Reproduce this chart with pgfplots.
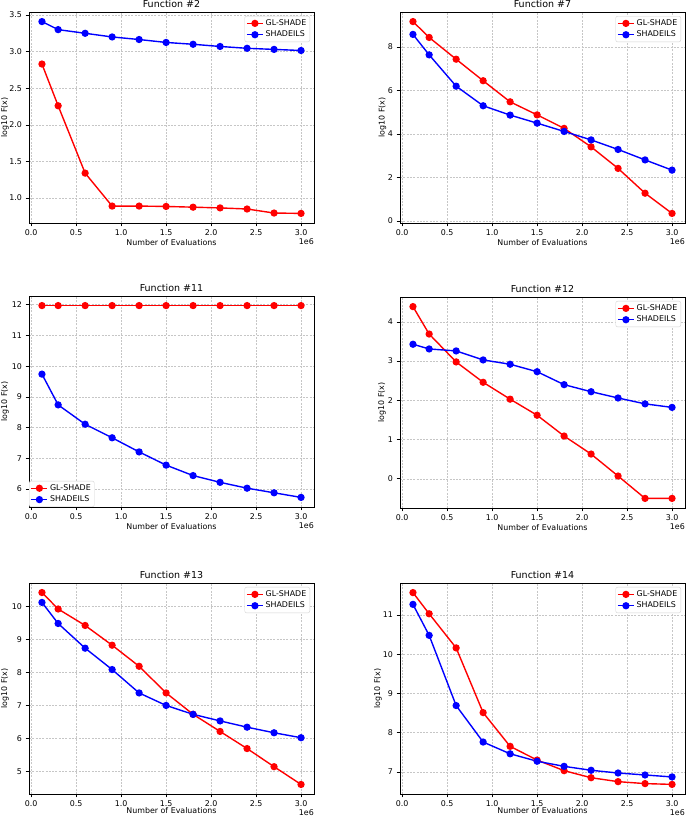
\documentclass[border=0pt]{standalone}
\usepackage{fontspec}
\setmainfont{DejaVu Sans}
\usepackage{pgfplots}
\usepackage{pgfplotstable}
\pgfplotsset{compat=1.18}
\newcommand{\tk}{\fontsize{7.9}{9}\selectfont}
\newcommand{\ttl}{\fontsize{9.5}{11}\selectfont}

\pgfplotstableread{
x    gl     sh
0.12 2.83   3.41
0.3  2.26   3.30
0.6  1.34   3.25
0.9  0.89   3.20
1.2  0.89   3.165
1.5  0.885  3.125
1.8  0.875  3.10
2.1  0.865  3.07
2.4  0.85   3.045
2.7  0.795  3.03
3.0  0.79   3.015
}\fA
\pgfplotstableread{
x    gl     sh
0.12 9.16   8.57
0.3  8.43   7.63
0.6  7.43   6.19
0.9  6.44   5.29
1.2  5.47   4.86
1.5  4.87   4.49
1.8  4.25   4.11
2.1  3.40   3.72
2.4  2.41   3.28
2.7  1.27   2.80
3.0  0.34   2.33
}\fB
\pgfplotstableread{
x    gl     sh
0.12 11.97  9.74
0.3  11.97  8.74
0.6  11.97  8.11
0.9  11.97  7.67
1.2  11.97  7.21
1.5  11.97  6.78
1.8  11.97  6.44
2.1  11.97  6.22
2.4  11.97  6.03
2.7  11.97  5.88
3.0  11.97  5.73
}\fC
\pgfplotstableread{
x    gl     sh
0.12 4.39   3.43
0.3  3.69   3.31
0.6  2.98   3.26
0.9  2.46   3.03
1.2  2.03   2.92
1.5  1.62   2.73
1.8  1.09   2.40
2.1  0.63   2.22
2.4  0.07   2.06
2.7  -0.50  1.91
3.0  -0.50  1.82
}\fD
\pgfplotstableread{
x    gl     sh
0.12 10.43  10.13
0.3  9.93   9.49
0.6  9.43   8.74
0.9  8.83   8.09
1.2  8.19   7.38
1.5  7.38   7.00
1.8  6.73   6.73
2.1  6.21   6.53
2.4  5.69   6.34
2.7  5.14   6.17
3.0  4.60   6.02
}\fE
\pgfplotstableread{
x    gl     sh
0.12 11.57  11.27
0.3  11.03  10.48
0.6  10.16  8.69
0.9  8.51   7.76
1.2  7.65   7.46
1.5  7.30   7.27
1.8  7.03   7.14
2.1  6.85   7.04
2.4  6.75   6.97
2.7  6.70   6.92
3.0  6.68   6.87
}\fF

\pgfplotsset{
  every axis title/.style={at={(0.5,1)}, anchor=base, yshift=4.5pt, font=\ttl},
  scale only axis, width=285pt, height=211pt,
  xmin=-0.024, xmax=3.144,
  xtick={0,0.5,1,1.5,2,2.5,3},
  xticklabel style={/pgf/number format/.cd, fixed, fixed zerofill, precision=1},
  /pgf/number format/assume math mode=true,
  tick label style={font=\tk},
  label style={font=\tk},
  tick align=outside, tick pos=left, major tick length=3.5pt,
  tick style={black, line width=0.6pt},
  axis line style={black, line width=0.8pt},
  grid=major,
  major grid style={gray!45, dash pattern=on 2pt off 1.3pt, line width=0.5pt},
  xlabel={Number of Evaluations}, ylabel={log10 F(x)},
  xlabel style={at={(axis description cs:0.5,0)}, anchor=north, inner sep=0pt, yshift=-16pt},
  legend cell align=left,
  legend style={font=\tk, draw=gray!35, rounded corners=2pt, fill=white,
    at={(1,1)}, anchor=north east, xshift=-4pt, yshift=-4pt,
    inner sep=1.5pt, row sep=0pt},
  legend image code/.code={
    \draw[mark repeat=2, mark phase=2, #1, dash pattern=on 5pt off 6pt, mark options={solid}]
      plot coordinates {(0pt,0pt) (8pt,0pt) (16pt,0pt)};
  },
  every axis plot/.append style={line width=1.4pt, mark=*, mark size=2.9pt},
  extra description/.code={
    \node[anchor=north east, inner sep=0pt, font=\tk] at (1,0) [yshift=-15pt] {1e6};
  },
}

\begin{document}
\begin{tikzpicture}
\path[use as bounding box] (0,0) rectangle (685pt,816pt);

\begin{axis}[at={(29pt,593pt)}, anchor=south west, title={Function \#2},
  ymin=0.659, ymax=3.541, ytick={1,1.5,2,2.5,3,3.5},
  yticklabel style={/pgf/number format/.cd, fixed, fixed zerofill, precision=1},
  ylabel style={at={([xshift=-24pt]axis description cs:0,0.5)}, anchor=center, inner sep=0pt}]
\addplot[red] table[x=x, y=gl] {\fA};
\addplot[blue] table[x=x, y=sh] {\fA};
\legend{GL-SHADE, SHADEILS}
\end{axis}

\begin{axis}[at={(400pt,593pt)}, anchor=south west, title={Function \#7},
  ymin=-0.10, ymax=9.60, ytick={0,2,4,6,8},
  ylabel style={at={([xshift=-17.5pt]axis description cs:0,0.5)}, anchor=center, inner sep=0pt}]
\addplot[red] table[x=x, y=gl] {\fB};
\addplot[blue] table[x=x, y=sh] {\fB};
\legend{GL-SHADE, SHADEILS}
\end{axis}

\begin{axis}[at={(29pt,309pt)}, anchor=south west, title={Function \#11},
  ymin=5.418, ymax=12.282, ytick={6,7,8,9,10,11,12},
  ylabel style={at={([xshift=-24pt]axis description cs:0,0.5)}, anchor=center, inner sep=0pt},
  legend style={at={(0,0)}, anchor=south west, xshift=4pt, yshift=4pt}]
\addplot[red] table[x=x, y=gl] {\fC};
\addplot[blue] table[x=x, y=sh] {\fC};
\legend{GL-SHADE, SHADEILS}
\end{axis}

\begin{axis}[at={(400pt,308pt)}, anchor=south west, title={Function \#12},
  ymin=-0.745, ymax=4.635, ytick={0,1,2,3,4},
  ylabel style={at={([xshift=-18pt]axis description cs:0,0.5)}, anchor=center, inner sep=0pt}]
\addplot[red] table[x=x, y=gl] {\fD};
\addplot[blue] table[x=x, y=sh] {\fD};
\legend{GL-SHADE, SHADEILS}
\end{axis}

\begin{axis}[at={(29pt,22pt)}, anchor=south west, title={Function \#13},
  ymin=4.31, ymax=10.72, ytick={5,6,7,8,9,10},
  xlabel style={yshift=2.5pt},
  ylabel style={at={([xshift=-24pt]axis description cs:0,0.5)}, anchor=center, inner sep=0pt}]
\addplot[red] table[x=x, y=gl] {\fE};
\addplot[blue] table[x=x, y=sh] {\fE};
\legend{GL-SHADE, SHADEILS}
\end{axis}

\begin{axis}[at={(400pt,22pt)}, anchor=south west, title={Function \#14},
  ymin=6.435, ymax=11.815, ytick={7,8,9,10,11},
  xlabel style={yshift=2.5pt},
  ylabel style={at={([xshift=-22pt]axis description cs:0,0.5)}, anchor=center, inner sep=0pt}]
\addplot[red] table[x=x, y=gl] {\fF};
\addplot[blue] table[x=x, y=sh] {\fF};
\legend{GL-SHADE, SHADEILS}
\end{axis}
\end{tikzpicture}
\end{document}
